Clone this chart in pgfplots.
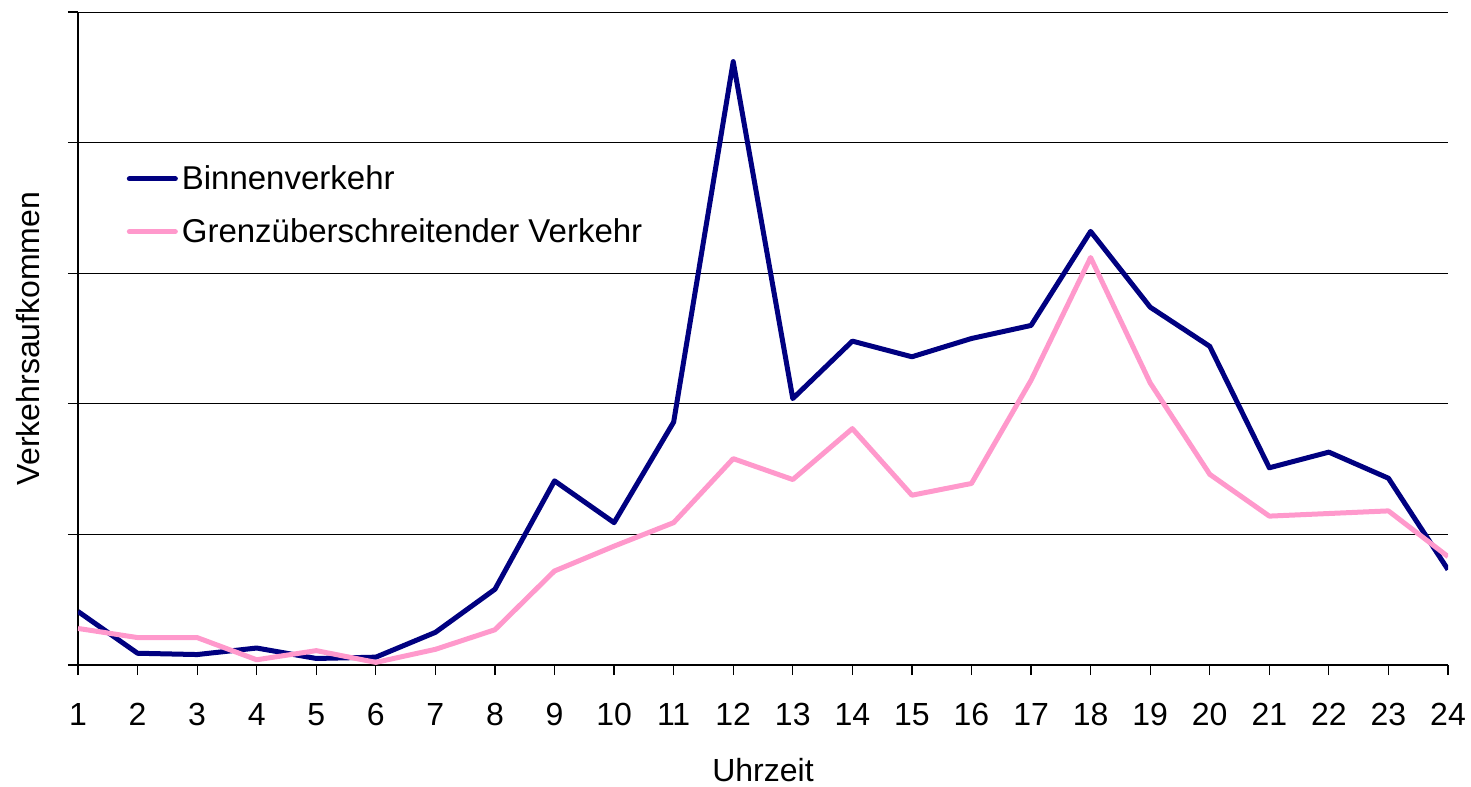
\documentclass[border=0pt]{standalone}
\usepackage{fontspec}
\setmainfont{Liberation Sans}
\usepackage{pgfplots}
\pgfplotsset{compat=1.18}
\definecolor{binnen}{RGB}{0,0,128}
\definecolor{grenz}{RGB}{255,153,204}
\begin{document}
\begin{tikzpicture}
\useasboundingbox (-39bp,-61bp) rectangle (696.5bp,332.5bp);
\begin{axis}[
  at={(0,0)}, anchor=south west,
  scale only axis, width=685bp, height=326.5bp,
  xmin=1, xmax=24, ymin=0, ymax=5,
  axis x line=bottom, axis y line=left,
  axis line style={-, black, line width=0.6bp},
  xtick={1,...,24}, ytick={0,1,2,3,4,5}, yticklabels={},
  tick align=outside, major tick length=5bp,
  tick style={black, line width=0.6bp},
  ymajorgrids, grid style={black, line width=0.5bp},
  ticklabel style={font=\fontsize{16bp}{18bp}\selectfont},
  /pgf/number format/assume math mode=true,
  xticklabel style={yshift=-10.5bp},
  xlabel={Uhrzeit}, ylabel={Verkehrsaufkommen},
  label style={font=\fontsize{16bp}{18bp}\selectfont},
  xlabel style={at={(0.5,-0.161)}, anchor=center},
  ylabel style={at={(-0.0365,0.5)}, anchor=center},
  legend style={draw=none, fill=none, at={(0.031,0.778)}, anchor=north west,
    font=\fontsize{16.5bp}{19bp}\selectfont, row sep=9bp},
  legend cell align=left,
  legend image code/.code={\draw[#1, line cap=round] (0bp,0bp) -- (23bp,0bp);},
]
\addplot[binnen, line width=2.5bp, line join=round] coordinates {
(1,0.41) (2,0.09) (3,0.08) (4,0.13) (5,0.05) (6,0.06) (7,0.25) (8,0.58)
(9,1.41) (10,1.09) (11,1.86) (12,4.62) (13,2.04) (14,2.48) (15,2.36) (16,2.50)
(17,2.60) (18,3.32) (19,2.74) (20,2.44) (21,1.51) (22,1.63) (23,1.43) (24,0.73)
};
\addlegendentry{Binnenverkehr}
\addplot[grenz, line width=2.5bp, line join=round] coordinates {
(1,0.28) (2,0.21) (3,0.21) (4,0.04) (5,0.11) (6,0.02) (7,0.12) (8,0.27)
(9,0.72) (10,0.91) (11,1.09) (12,1.58) (13,1.42) (14,1.81) (15,1.30) (16,1.39)
(17,2.18) (18,3.12) (19,2.16) (20,1.46) (21,1.14) (22,1.16) (23,1.18) (24,0.83)
};
\addlegendentry{Grenzüberschreitender Verkehr}
\end{axis}
\end{tikzpicture}
\end{document}
